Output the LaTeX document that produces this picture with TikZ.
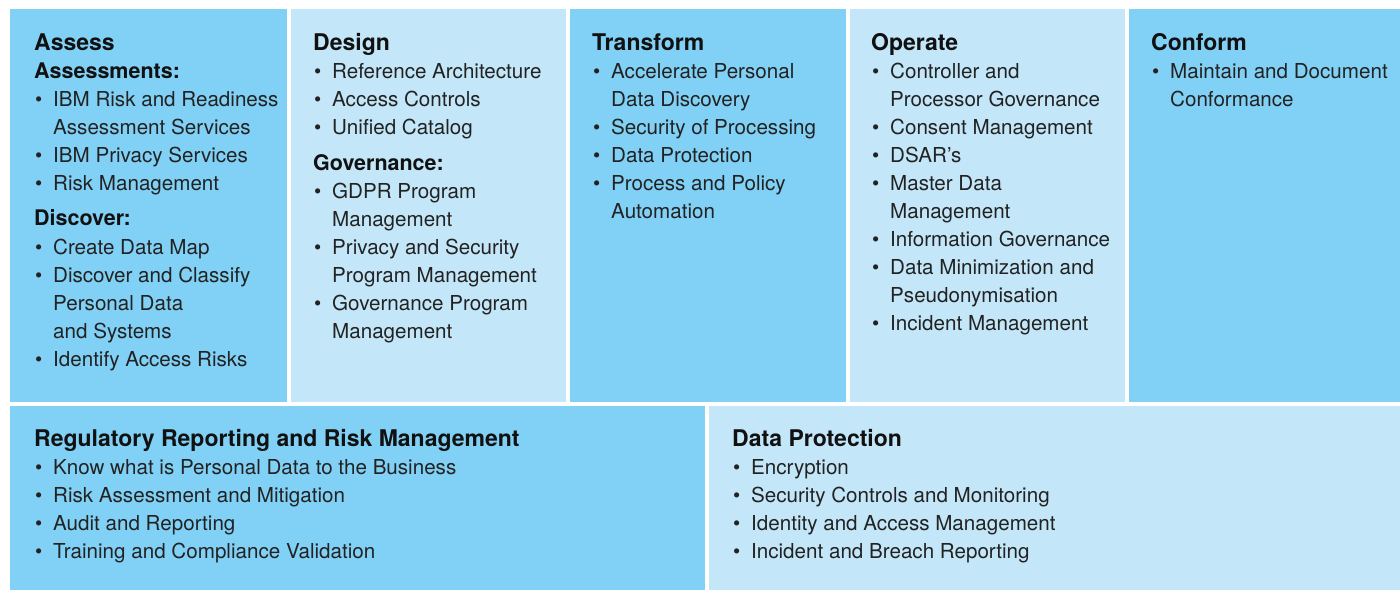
\documentclass[tikz,border=0pt]{standalone}
\usepackage{fontspec}
\setmainfont{TeX Gyre Heros}
\definecolor{deepblue}{HTML}{81D1F6}
\definecolor{paleblue}{HTML}{C3E7F8}
\definecolor{bodyink}{HTML}{222222}
\definecolor{headink}{HTML}{111111}
% bullet and continuation indents for list lines
\newcommand\bul{\makebox[19pt][l]{\hspace{1pt}\textbullet}}
\newcommand\cont{\hspace*{19pt}}
\newcommand\hd[1]{{\fontsize{23}{28}\selectfont\bfseries\color{headink}#1}}
\newcommand\sh[1]{{\fontsize{21.5}{28}\selectfont\bfseries\color{headink}#1}}
\begin{document}
\begin{tikzpicture}[x=1pt,y=-1pt,
  panel/.style={anchor=north west,inner sep=0pt,outer sep=0pt,draw=none},
  deep/.style={panel,fill=deepblue},
  pale/.style={panel,fill=paleblue},
  body/.style={anchor=north west,inner sep=0pt,align=left,text=bodyink,
    font=\fontsize{20.6}{28}\selectfont}]
\useasboundingbox (0,0) rectangle (1400,590);
\fill[white] (0,0) rectangle (1400,590);
% top row of stages
\node[deep,minimum width=277pt,minimum height=393pt] (assess) at (10,9) {};
\node[pale,minimum width=275pt,minimum height=393pt] (design) at (291,9) {};
\node[deep,minimum width=276pt,minimum height=393pt] (transform) at (570,9) {};
\node[pale,minimum width=275pt,minimum height=393pt] (operate) at (850,9) {};
\node[deep,minimum width=271pt,minimum height=393pt] (conform) at (1129,9) {};
% bottom row
\node[deep,minimum width=695pt,minimum height=184pt] (regulatory) at (10,406) {};
\node[pale,minimum width=691pt,minimum height=184pt] (dataprot) at (709,406) {};

\node[body] (assesstext) at (34,33.5) {\hd{Assess}\\
\sh{Assessments:}\\
\bul IBM Risk and Readiness\\
\cont Assessment Services\\
\bul IBM Privacy Services\\
\bul Risk Management\\[7pt]
\sh{Discover:}\\[1pt]
\bul Create Data Map\\
\bul Discover and Classify\\
\cont Personal Data\\
\cont and Systems\\
\bul Identify Access Risks};

\node[body] (designtext) at (313,33.5) {\hd{Design}\\
\bul Reference Architecture\\
\bul Access Controls\\
\bul Unified Catalog\\[8pt]
\sh{Governance:}\\
\bul GDPR Program\\
\cont Management\\
\bul Privacy and Security\\
\cont Program Management\\
\bul Governance Program\\
\cont Management};

\node[body] (transformtext) at (592,33.5) {\hd{Transform}\\
\bul Accelerate Personal\\
\cont Data Discovery\\
\bul Security of Processing\\
\bul Data Protection\\
\bul Process and Policy\\
\cont Automation};

\node[body] (operatetext) at (871,33.5) {\hd{Operate}\\
\bul Controller and\\
\cont Processor Governance\\
\bul Consent Management\\
\bul DSAR’s\\
\bul Master Data\\
\cont Management\\
\bul Information Governance\\
\bul Data Minimization and\\
\cont Pseudonymisation\\
\bul Incident Management};

\node[body] (conformtext) at (1151,33.5) {\hd{Conform}\\
\bul Maintain and Document\\
\cont Conformance};

\node[body] (regulatorytext) at (34,429.5) {\hd{Regulatory Reporting and Risk Management}\\
\bul Know what is Personal Data to the Business\\
\bul Risk Assessment and Mitigation\\
\bul Audit and Reporting\\
\bul Training and Compliance Validation};

\node[body] (dataprottext) at (732,429.5) {\hd{Data Protection}\\
\bul Encryption\\
\bul Security Controls and Monitoring\\
\bul Identity and Access Management\\
\bul Incident and Breach Reporting};
\end{tikzpicture}
\end{document}
